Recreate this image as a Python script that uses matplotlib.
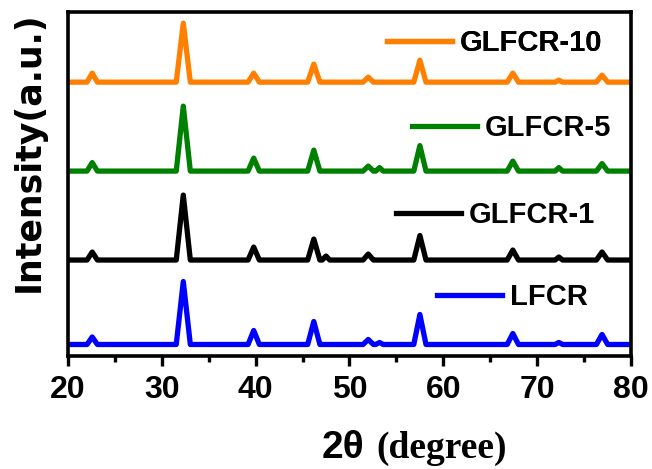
import matplotlib
matplotlib.use("Agg")
import matplotlib.pyplot as plt
from matplotlib.ticker import MultipleLocator

# peak positions (2theta) and half widths at the foot
peaks = [22.6, 32.3, 39.8, 46.2, 47.5, 52.0, 53.2, 57.5, 67.4, 72.3, 76.9]
feet = [0.55, 0.75, 0.6, 0.65, 0.4, 0.55, 0.4, 0.65, 0.6, 0.4, 0.6]

names = ["LFCR", "GLFCR-1", "GLFCR-5", "GLFCR-10"]
colors = ["#0000ff", "#000000", "#008000", "#ff7f00"]
# baseline of each stacked pattern (a.u.)
baselines = [11.5, 96, 185, 274]
# peak heights above the baseline (a.u.)
h_lfcr = [7.5, 63, 14, 23, 0, 5, 2, 30, 11, 2, 10]
h_g1 = [8, 65, 13, 21, 4, 6, 0, 24.5, 10, 3, 8]
h_g5 = [8.5, 65, 13, 21, 0, 5, 3.5, 25.5, 10, 3.5, 7.5]
h_g10 = [9, 59, 9, 18, 0, 5, 0, 22, 9, 2, 7]
heights = [h_lfcr, h_g1, h_g5, h_g10]

# where the legend keys sit (axes fraction: left of line, centre y)
leg_pos = [(0.655, 0.172), (0.583, 0.410), (0.611, 0.663), (0.567, 0.910)]

fig = plt.figure(figsize=(6.52, 4.69), dpi=100)
ax = fig.add_axes([0.104, 0.241, 0.864, 0.733])

for name, col, base, hh, pos in zip(names, colors, baselines, heights, leg_pos):
    xs = [20.0]
    ys = [base]
    for p, w, h in zip(peaks, feet, hh):
        xs += [p - w, p, p + w]
        ys += [base, base + h, base]
    xs.append(80.0)
    ys.append(base)
    line, = ax.plot(xs, ys, color=col, lw=3.8, solid_joinstyle="round", label=name)
    leg = ax.legend(handles=[line], loc="center left", bbox_to_anchor=pos,
                    frameon=False, borderpad=0, borderaxespad=0,
                    handlelength=2.23, handletextpad=0.27,
                    prop={"family": "Liberation Sans", "weight": "bold", "size": 21})
    ax.add_artist(leg)

ax.set_xlim(20, 80)
ax.set_ylim(0, 344)
ax.xaxis.set_major_locator(MultipleLocator(10))
ax.xaxis.set_minor_locator(MultipleLocator(5))
ax.tick_params(axis="x", which="major", direction="out", length=7.2, width=2.4, pad=6.5)
ax.tick_params(axis="x", which="minor", direction="out", length=4, width=2.4)
ax.set_yticks([])
for sp in ax.spines.values():
    sp.set_linewidth(2.6)
for lab in ax.get_xticklabels():
    lab.set_family("Liberation Sans")
    lab.set_fontweight("bold")
    lab.set_fontsize(23)

ax.set_ylabel("Intensity(a.u.)", family="DejaVu Sans", fontweight="bold", fontsize=25)
ax.yaxis.set_label_coords(-0.039, 0.593)

fig.text(0.494, 0.0235, "2θ", family="Liberation Sans", fontweight="bold",
         fontsize=28, ha="left", va="baseline")
fig.text(0.578, 0.0235, "(degree)", family="Liberation Serif", fontweight="bold",
         fontsize=27, ha="left", va="baseline")

fig.savefig("out.png", dpi=100)
